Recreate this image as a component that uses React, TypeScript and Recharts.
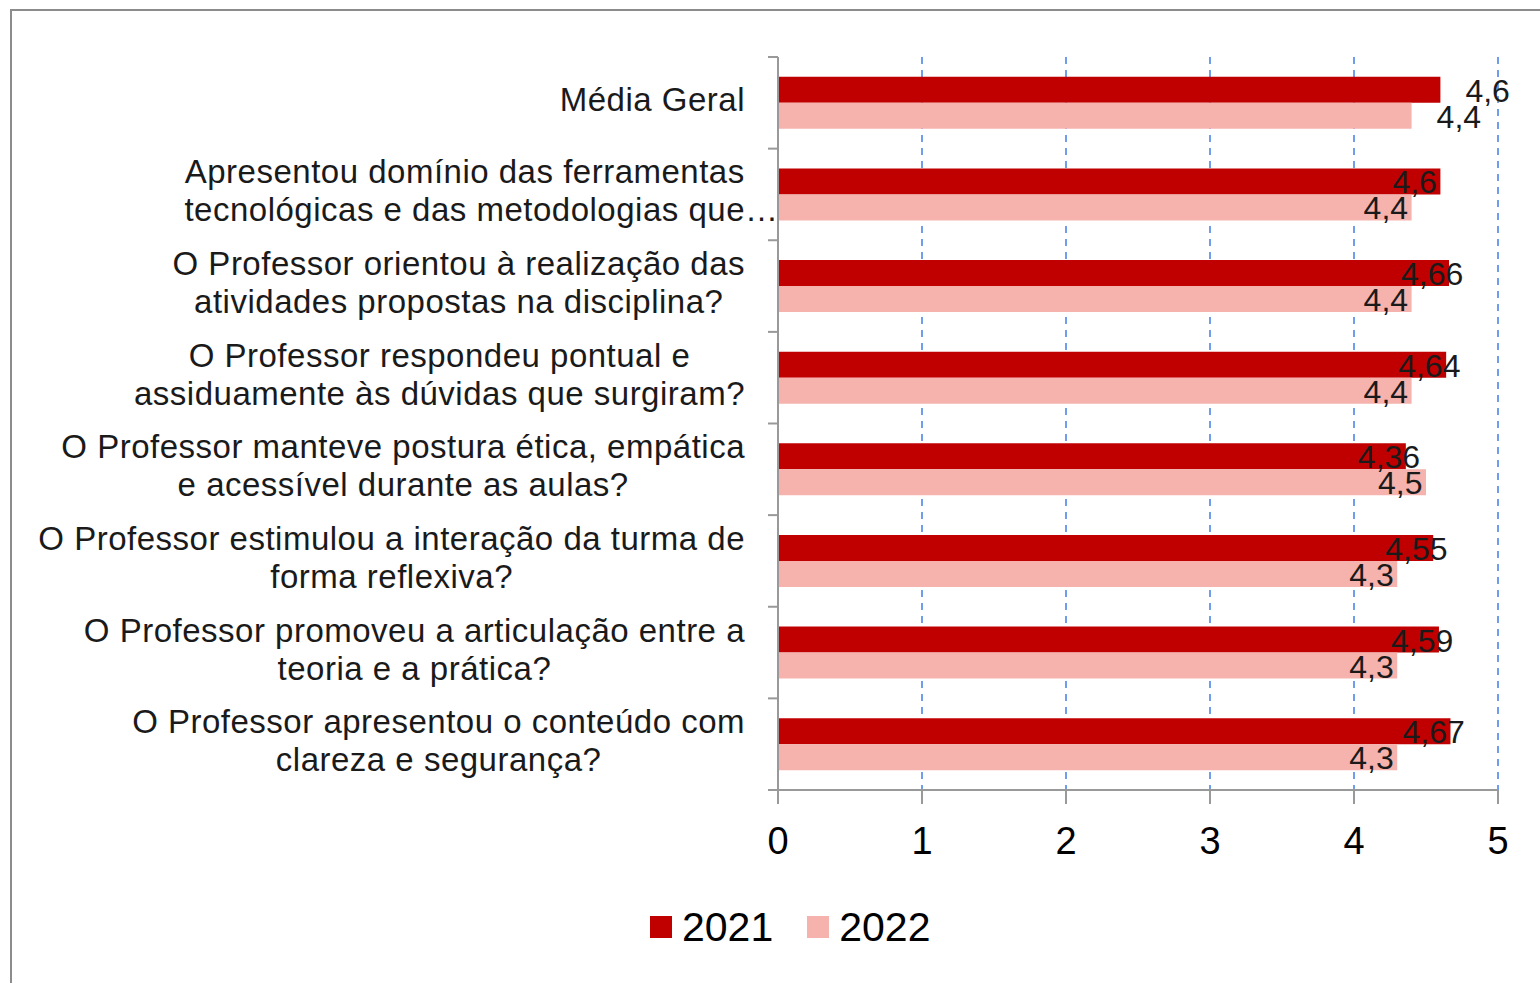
import { BarChart, Bar, XAxis, YAxis, CartesianGrid, LabelList } from 'recharts';

const categories = [
  'Média Geral',
  'Apresentou domínio das ferramentas\ntecnológicas e das metodologias que…',
  'O Professor orientou à realização das\natividades propostas na disciplina?',
  'O Professor respondeu pontual e\nassiduamente às dúvidas que surgiram?',
  'O Professor manteve postura ética, empática\ne acessível durante as aulas?',
  'O Professor estimulou a interação da turma de\nforma reflexiva?',
  'O Professor promoveu a articulação entre a\nteoria e a prática?',
  'O Professor apresentou o conteúdo com\nclareza e segurança?',
];
const values2021 = [4.6, 4.6, 4.66, 4.64, 4.36, 4.55, 4.59, 4.67];
const values2022 = [4.4, 4.4, 4.4, 4.4, 4.5, 4.3, 4.3, 4.3];
const xTicks = [0, 1, 2, 3, 4, 5];

const series = [
  { key: 'y2021', name: '2021', color: '#c00000' },
  { key: 'y2022', name: '2022', color: '#f6b3ae' },
];

const data = categories.map((name, i) => ({ name, y2021: values2021[i], y2022: values2022[i] }));

const W = 1540;
const H = 983;
const PLOT_LEFT = 778;
const PLOT_TOP = 57;
const PLOT_BOTTOM = 790;
const BAND = (PLOT_BOTTOM - PLOT_TOP) / categories.length;
const FONT = '"Liberation Sans", Arial, sans-serif';
const TEXT = '#1a1a1a';
const SPILL = 40; // room for the dots that hang past the label box

const fmt = (v: number) => String(v).replace('.', ',');

// excel lets the truncation dots hang past the label box
const Line = ({ text }: { text: string }) => {
  if (!text.endsWith('…')) return <div>{text}</div>;
  return (
    <div>
      <span style={{ position: 'relative' }}>
        {text.slice(0, -1)}
        <span style={{ position: 'absolute', left: '100%', top: 0 }}>…</span>
      </span>
    </div>
  );
};

const CategoryTick = (props: any) => {
  const { x, y, payload, index } = props;
  const lines = String(payload.value).split('\n');
  return (
    <g>
      <line x1={PLOT_LEFT - 10} x2={PLOT_LEFT} y1={y - BAND / 2} y2={y - BAND / 2} stroke="#999" strokeWidth={2} />
      {index === categories.length - 1 && (
        <line x1={PLOT_LEFT - 10} x2={PLOT_LEFT} y1={y + BAND / 2} y2={y + BAND / 2} stroke="#999" strokeWidth={2} />
      )}
      <foreignObject x={0} y={y - BAND / 2 - 3} width={x + SPILL} height={BAND}>
        <div
          style={{
            height: '100%',
            boxSizing: 'border-box',
            paddingRight: SPILL,
            display: 'flex',
            justifyContent: 'flex-end',
            alignItems: 'center',
          }}
        >
          <div
            style={{
              textAlign: 'center',
              whiteSpace: 'nowrap',
              fontFamily: FONT,
              fontSize: 33,
              letterSpacing: 0.5,
              lineHeight: '38px',
              color: TEXT,
            }}
          >
            {lines.map((l, i) => (
              <Line key={i} text={l} />
            ))}
          </div>
        </div>
      </foreignObject>
    </g>
  );
};

const ValueLabel = (props: any) => {
  const { x, y, width, height, value, index } = props;
  const end = x + width;
  const tx = index === 0 ? end + 25 : end - 48;
  return (
    <text
      x={tx}
      y={y + height / 2 + 12}
      textAnchor="start"
      fontFamily={FONT}
      fontSize={32}
      fill={TEXT}
    >
      {fmt(value)}
    </text>
  );
};

export default function App() {
  return (
    <div
      style={{
        position: 'absolute',
        left: 0,
        top: 0,
        width: W,
        height: H,
        background: '#fff',
        overflow: 'hidden',
      }}
    >
      <div
        style={{
          position: 'absolute',
          left: 10,
          top: 9,
          width: W,
          height: H,
          borderTop: '2px solid #8c8c8c',
          borderLeft: '2px solid #8c8c8c',
        }}
      />
      <div style={{ position: 'absolute', left: 0, top: 0 }}>
        <BarChart
          width={W}
          height={H}
          data={data}
          layout="vertical"
          margin={{ top: PLOT_TOP, right: W - 1498, bottom: H - PLOT_BOTTOM - 70, left: 0 }}
          barCategoryGap="21.6%"
          barGap={0}
        >
          <CartesianGrid horizontal={false} stroke="#3f7fe6" strokeDasharray="7 6" strokeWidth={1.5} />
          <XAxis
            type="number"
            domain={[0, 5]}
            ticks={xTicks}
            height={70}
            stroke="#999"
            strokeWidth={2}
            tickSize={14}
            tickMargin={23}
            tick={{ fill: '#000', fontSize: 38, fontFamily: FONT }}
          />
          <YAxis
            type="category"
            dataKey="name"
            width={PLOT_LEFT}
            stroke="#999"
            strokeWidth={2}
            tickLine={false}
            tickSize={10}
            tickMargin={23}
            interval={0}
            tick={<CategoryTick />}
          />
          {series.map((s) => (
            <Bar key={s.key} dataKey={s.key} name={s.name} fill={s.color} isAnimationActive={false}>
              <LabelList dataKey={s.key} content={<ValueLabel />} />
            </Bar>
          ))}
        </BarChart>
      </div>
      <div
        style={{
          position: 'absolute',
          left: 650,
          top: 905,
          display: 'flex',
          alignItems: 'center',
          fontFamily: FONT,
          fontSize: 41,
          lineHeight: '44px',
          color: '#000',
        }}
      >
        {series.map((s) => (
          <div key={s.key} style={{ display: 'flex', alignItems: 'center', marginRight: 34 }}>
            <div style={{ width: 22, height: 22, background: s.color, marginRight: 10 }} />
            <span>{s.name}</span>
          </div>
        ))}
      </div>
    </div>
  );
}
